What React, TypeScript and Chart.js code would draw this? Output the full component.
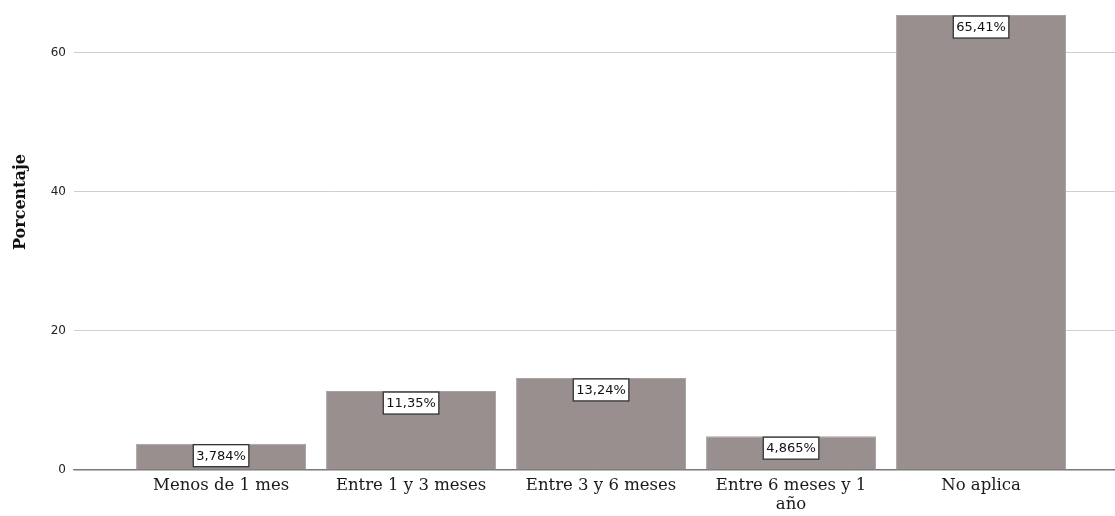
import React, { useEffect, useRef } from "react";
import { Chart, registerables } from "chart.js";

Chart.register(...registerables);

const categories: (string | string[])[] = [
  "Menos de 1 mes",
  "Entre 1 y 3 meses",
  "Entre 3 y 6 meses",
  ["Entre 6 meses y 1", "año"],
  "No aplica",
];
const values: number[] = [3.784, 11.35, 13.24, 4.865, 65.41];
const valueLabels: string[] = ["3,784%", "11,35%", "13,24%", "4,865%", "65,41%"];
const yTicks: number[] = [0, 20, 40, 60];
const yTitle = "Porcentaje";

const labelPlugin = {
  id: "barLabels",
  afterDatasetsDraw(chart: any) {
    const ctx = chart.ctx;
    const meta = chart.getDatasetMeta(0);
    ctx.save();
    ctx.font = "13px 'DejaVu Sans'";
    ctx.textAlign = "center";
    ctx.textBaseline = "middle";
    meta.data.forEach((bar: any, i: number) => {
      const text = valueLabels[i];
      const w = ctx.measureText(text).width + 6;
      const h = 22;
      const top = bar.y + 1;
      const left = bar.x - w / 2;
      ctx.fillStyle = "#ffffff";
      ctx.fillRect(left, top, w, h);
      ctx.strokeStyle = "#333333";
      ctx.lineWidth = 1.3;
      ctx.strokeRect(left, top, w, h);
      ctx.fillStyle = "#111111";
      ctx.fillText(text, bar.x, top + h / 2 + 0.5);
    });
    const area = chart.chartArea;
    ctx.translate(21, area.top + (area.bottom - area.top) * 0.425);
    ctx.rotate(-Math.PI / 2);
    ctx.font = "bold 16px 'DejaVu Serif'";
    ctx.fillStyle = "#111111";
    ctx.fillText(yTitle, 0, 0);
    ctx.restore();
  },
};

export default function App() {
  const ref = useRef<HTMLCanvasElement | null>(null);
  useEffect(() => {
    document.body.style.margin = "0";
    if (!ref.current) return;
    const chart = new Chart(ref.current, {
      type: "bar",
      data: {
        datasets: [
          {
            data: values.map((v, i) => ({ x: i, y: v })),
            backgroundColor: "#998f8f",
            borderColor: "#a9a1a1",
            borderWidth: 1,
            categoryPercentage: 1,
            barPercentage: 170 / 190,
          },
        ],
      },
      options: {
        animation: false,
        responsive: true,
        maintainAspectRatio: false,
        layout: { padding: { top: 4, right: 0, left: 0, bottom: 0 } },
        plugins: { legend: { display: false }, tooltip: { enabled: false } },
        scales: {
          x: {
            type: "linear",
            offset: false,
            min: -0.774,
            max: 4.705,
            afterBuildTicks: (scale: any) => {
              scale.ticks = categories.map((_, i) => ({ value: i }));
            },
            afterFit: (scale: any) => {
              scale.height = 46;
              scale.paddingLeft = 0;
              scale.paddingRight = 0;
            },
            grid: { display: false, drawTicks: false },
            border: { display: true, color: "#7a7a7a", width: 1.2 },
            ticks: {
              autoSkip: false,
              maxRotation: 0,
              padding: 6,
              color: "#1a1a1a",
              font: { family: "'DejaVu Serif'", size: 16.5, lineHeight: 1.15 },
              callback: (v: any) => categories[v as number] ?? "",
            },
          },
          y: {
            min: 0,
            max: 67,
            afterBuildTicks: (scale: any) => {
              scale.ticks = yTicks.map((v) => ({ value: v }));
            },
            afterFit: (scale: any) => {
              scale.width = 74;
              scale.paddingTop = 0;
              scale.paddingBottom = 0;
            },
            grid: { color: "#cfcfcf", drawTicks: false, lineWidth: 1 },
            border: { display: false },
            ticks: {
              padding: 8,
              color: "#222222",
              font: { family: "'DejaVu Sans'", size: 12 },
            },
          },
        },
      },
      plugins: [labelPlugin],
    });
    return () => chart.destroy();
  }, []);
  return (
    <div style={{ width: 1115, height: 516, position: "relative" }}>
      <canvas ref={ref} />
    </div>
  );
}
